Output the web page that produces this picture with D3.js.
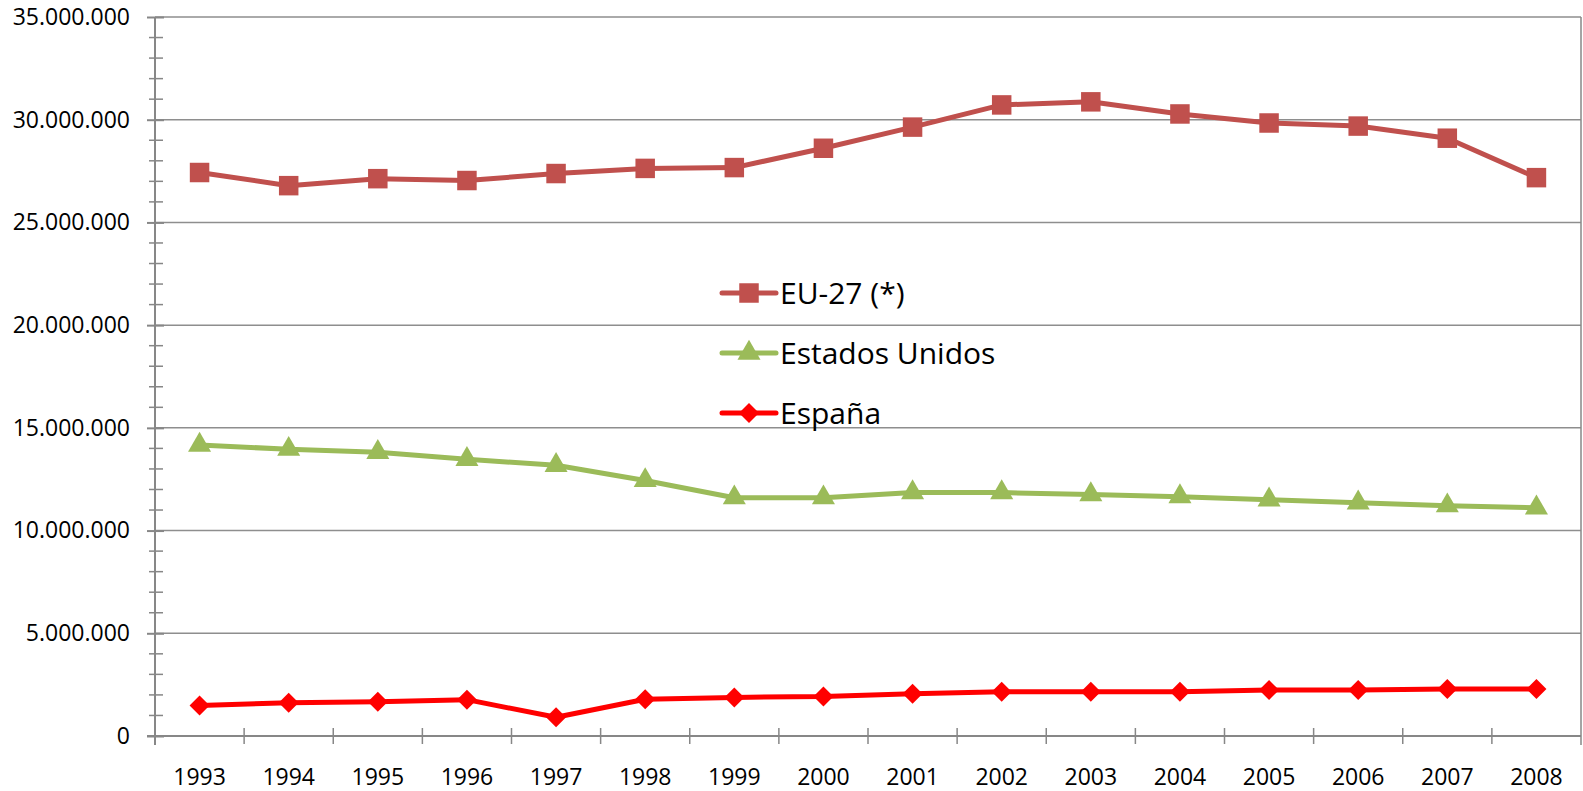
<!DOCTYPE html>
<html>
<head>
<meta charset="utf-8">
<script src="https://cdn.jsdelivr.net/npm/d3@7"></script>
<style>
  body { margin: 0; background: #fff; }
  svg { display: block; font-family: "Open Sans", "Liberation Sans", sans-serif; }
</style>
</head>
<body>
<svg id="chart" width="1583" height="791"></svg>
<script>
const years = ['1993', '1994', '1995', '1996', '1997', '1998', '1999', '2000',
  '2001', '2002', '2003', '2004', '2005', '2006', '2007', '2008'];
const eu27 = [27430000, 26790000, 27130000, 27040000, 27380000, 27630000, 27670000, 28610000,
  29640000, 30720000, 30870000, 30280000, 29840000, 29690000, 29100000, 27180000];
const estadosUnidos = [14160000, 13960000, 13810000, 13470000, 13180000, 12440000, 11600000, 11600000,
  11850000, 11850000, 11750000, 11650000, 11500000, 11350000, 11210000, 11110000];
const espana = [1490000, 1620000, 1670000, 1770000, 910000, 1790000, 1880000, 1920000,
  2060000, 2160000, 2160000, 2160000, 2240000, 2240000, 2290000, 2290000];
const yTicks = [0, 5000000, 10000000, 15000000, 20000000, 25000000, 30000000, 35000000];

// square turned 45 degrees, as the spreadsheet draws its diamond
const squareDiamond = {
  draw(context, size) {
    const r = Math.sqrt(size / 2);
    context.moveTo(0, -r);
    context.lineTo(r, 0);
    context.lineTo(0, r);
    context.lineTo(-r, 0);
    context.closePath();
  }
};

const series = [
  { name: 'EU-27 (*)', values: eu27, color: '#C0504D', symbol: d3.symbolSquare, size: 380 },
  { name: 'Estados Unidos', values: estadosUnidos, color: '#9BBB59', symbol: d3.symbolTriangle, size: 230 },
  { name: 'España', values: espana, color: '#FF0000', symbol: squareDiamond, size: 200 }
];

const svg = d3.select('#chart');
const plot = { left: 155, right: 1581, top: 17, bottom: 736 };
const axisColor = '#878787';

const x = d3.scaleBand().domain(years).range([plot.left, plot.right]).padding(0);
const y = d3.scaleLinear().domain([0, 35000000]).range([plot.bottom, plot.top]);
const fmt = d3.formatLocale({ decimal: ',', thousands: '.', grouping: [3], currency: ['', '€'] }).format(',d');
const cx = d => x(d) + x.bandwidth() / 2;

// gridlines
svg.append('g')
  .selectAll('line')
  .data(yTicks.filter(d => d > 0))
  .enter()
  .append('line')
  .attr('x1', plot.left).attr('x2', plot.right)
  .attr('y1', d => y(d)).attr('y2', d => y(d))
  .style('stroke', '#8e8e8e')
  .style('stroke-width', 1.5);

// right border of plot area
svg.append('line')
  .attr('x1', plot.right).attr('x2', plot.right)
  .attr('y1', plot.top).attr('y2', plot.bottom + 9)
  .style('stroke', axisColor)
  .style('stroke-width', 1.5);

// minor y ticks
svg.append('g')
  .selectAll('line')
  .data(d3.range(0, 35000001, 1000000).filter(d => d % 5000000 !== 0))
  .enter()
  .append('line')
  .attr('x1', plot.left - 6).attr('x2', plot.left + 8)
  .attr('y1', d => y(d)).attr('y2', d => y(d))
  .style('stroke', axisColor)
  .style('stroke-width', 1.5);

// y axis
const yAxis = svg.append('g')
  .attr('transform', `translate(${plot.left},0)`)
  .call(d3.axisLeft(y).tickValues(yTicks).tickFormat(fmt).tickSize(8).tickPadding(17))
  .attr('font-family', null)
  .attr('font-size', null);
yAxis.select('.domain').remove();
yAxis.selectAll('.tick line').attr('x2', -8).attr('x1', 9).style('stroke', axisColor).style('stroke-width', 2);
yAxis.selectAll('text').style('font-size', '23px').style('fill', '#000');
svg.append('line')
  .attr('x1', plot.left).attr('x2', plot.left)
  .attr('y1', plot.top).attr('y2', plot.bottom + 9)
  .style('stroke', axisColor)
  .style('stroke-width', 2);

// x axis
svg.append('line')
  .attr('x1', plot.left - 8).attr('x2', plot.right)
  .attr('y1', plot.bottom).attr('y2', plot.bottom)
  .style('stroke', axisColor)
  .style('stroke-width', 2);
svg.append('g')
  .selectAll('line')
  .data(years.slice(1))
  .enter()
  .append('line')
  .attr('x1', d => x(d)).attr('x2', d => x(d))
  .attr('y1', plot.bottom - 8).attr('y2', plot.bottom + 8)
  .style('stroke', axisColor)
  .style('stroke-width', 1.5);
svg.append('g')
  .selectAll('text')
  .data(years)
  .enter()
  .append('text')
  .attr('x', cx)
  .attr('y', 785)
  .attr('text-anchor', 'middle')
  .style('font-size', '23px')
  .text(d => d);

// lines + markers
const line = d3.line().x((d, i) => cx(years[i])).y(d => y(d));
series.forEach((s) => {
  svg.append('path')
    .datum(s.values)
    .attr('d', line)
    .attr('fill', 'none')
    .style('stroke', s.color)
    .style('stroke-width', 5)
    .style('stroke-linejoin', 'round');
  svg.append('g')
    .selectAll('path')
    .data(s.values)
    .enter()
    .append('path')
    .attr('d', d3.symbol().type(s.symbol).size(s.size))
    .attr('transform', (d, i) => `translate(${cx(years[i])},${y(d)})`)
    .attr('fill', s.color);
});

// legend
const legend = svg.append('g').attr('transform', 'translate(722,293)');
const row = legend.selectAll('g')
  .data(series)
  .enter()
  .append('g')
  .attr('transform', (d, i) => `translate(0,${i * 60})`);
row.append('line')
  .attr('x1', 0).attr('x2', 54)
  .style('stroke', d => d.color)
  .style('stroke-width', 5)
  .style('stroke-linecap', 'round');
row.append('path')
  .attr('d', d => d3.symbol().type(d.symbol).size(d.size)())
  .attr('transform', 'translate(27,0)')
  .attr('fill', d => d.color);
row.append('text')
  .attr('x', 58)
  .attr('dy', '0.36em')
  .style('font-size', '30px')
  .text(d => d.name);
</script>
</body>
</html>
